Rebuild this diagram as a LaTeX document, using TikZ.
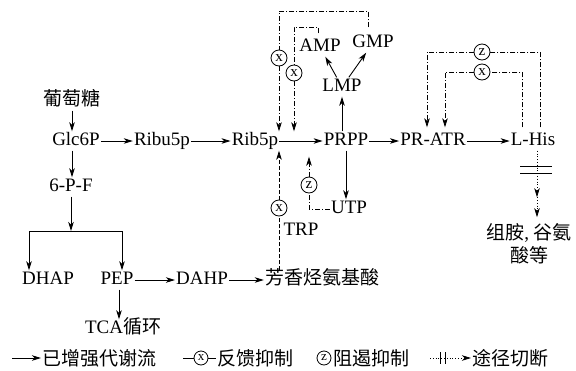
\documentclass[tikz,border=0pt]{standalone}
\usepackage{fontspec}
\setmainfont{Liberation Serif}
\newfontfamily\cjk{Noto Sans CJK SC}
\usetikzlibrary{arrows.meta,calc}
\newcommand{\metfont}{\fontsize{19}{22}\selectfont}
\newcommand{\legfont}{\fontsize{19}{21}\selectfont}

\begin{document}
\begin{tikzpicture}[x=1pt, y=-1pt, >={Stealth[length=9pt,width=5.5pt,inset=2.5pt]},
  met/.style={inner sep=1pt, font=\metfont, text height=13pt, text depth=4pt},
  flow/.style={->, line width=0.9pt},
  fb/.style={line width=0.7pt, dash pattern=on 5pt off 2pt on 1pt off 2pt},
  trpline/.style={line width=0.7pt, dash pattern=on 4pt off 2pt},
  cut/.style={line width=0.8pt, dotted},
  xcirc/.style={circle, draw, line width=0.8pt, fill=white, inner sep=0pt,
    minimum size=16pt, font=\fontsize{15}{15}\selectfont}]
  \useasboundingbox (0,0) rectangle (576,370);
  % metabolites
  \node[met] (glu) at (72,101) {\cjk 葡萄糖};
  \node[met] (glc) at (76,141) {Glc6P};
  \node[met] (p6f) at (71,187) {6-P-F};
  \node[met] (ribu) at (162,141) {Ribu5p};
  \node[met] (rib) at (255,141) {Rib5p};
  \node[met] (prpp) at (346,141) {PRPP};
  \node[met] (prat) at (433,141) {PR-ATR};
  \node[met] (lhis) at (533,141) {L-His};
  \node[met] (lmp) at (342,87) {LMP};
  \node[met] (amp) at (320,47) {AMP};
  \node[met] (gmp) at (373,43) {GMP};
  \node[met] (utp) at (349,209) {UTP};
  \node[met] (trp) at (301,231) {TRP};
  \node[met] (dhap) at (48,280) {DHAP};
  \node[met] (pep) at (117,280) {PEP};
  \node[met] (dahp) at (202,280) {DAHP};
  \node[met] (aro) at (322,280) {\cjk 芳香烃氨基酸};
  \node[met] (tca) at (123,329) {TCA\cjk 循环};
  \node[inner sep=1pt, font=\metfont, align=center] (his) at (529,244)
    {{\cjk 组胺}, {\cjk 谷氨}\\[1pt]{\cjk 酸等}};
  % main flow
  \draw[flow] (glu) -- (glu |- glc.north);
  \draw[flow] (glc.south -| glu) -- (glu |- p6f.north);
  \coordinate (br) at (71,231);
  \draw[flow] (p6f) -- (br);
  \draw[flow] (br) -| ([xshift=-19pt]dhap.north);
  \draw[flow] (br) -| ([xshift=5pt]pep.north);
  \draw[flow] (pep) -- (dahp);
  \draw[flow] (dahp) -- (aro);
  \draw[flow] ([xshift=2pt]pep.south) -- ([xshift=2pt]pep.south |- tca.north);
  \draw[flow] (glc) -- (ribu);
  \draw[flow] (ribu) -- (rib);
  \draw[flow] (rib) -- (prpp);
  \draw[flow] (prpp) -- (prat);
  \draw[flow] (prat) -- (lhis);
  \draw[flow] (prpp.north -| lmp) -- (lmp.south);
  \draw[flow] (lmp) -- (amp);
  \draw[flow] (lmp) -- (gmp);
  \draw[flow] (prpp) -- (prpp |- utp.north);
  % feedback on Rib5p -> PRPP
  \node[xcirc] (x1) at (279,58) {x};
  \node[xcirc] (x2) at (294,73) {x};
  \draw[fb] ([xshift=-5pt,yshift=6pt]gmp.north) -- ++(0,-16) -| (x1.north);
  \draw[fb,->] (x1.south) -- (x1 |- prpp.north);
  \draw[fb] ([xshift=-2pt,yshift=4pt]amp.north) -- ++(0,-6) -| (x2.north);
  \draw[fb,->] (x2.south) -- (x2 |- prpp.north);
  \node[xcirc] (x5) at (279,208) {x};
  \draw[trpline] (aro.north -| x5) -- (x5.south);
  \draw[trpline,->] (x5.north) -- (x5 |- rib.south);
  \node[xcirc] (z6) at (309,185) {z};
  \draw[fb] (utp.west) -| (z6.south);
  \draw[fb,->] (z6.north) -- ($(z6 |- prpp.south)+(0,6)$);
  % feedback on PR-ATR
  \node[xcirc] (z3) at (482,52) {z};
  \node[xcirc] (x4) at (482,72) {x};
  \draw[fb] ([xshift=7pt,yshift=4pt]lhis.north) |- (z3.east);
  \draw[fb,->] (z3.west) -| ([xshift=-6pt,yshift=4pt]prat.north);
  \draw[fb] ([xshift=-11pt,yshift=4pt]lhis.north) |- (x4.east);
  \draw[fb,->] (x4.west) -| ([xshift=12pt,yshift=4pt]prat.north);
  % cut pathway
  \coordinate (hcut) at ($(lhis.south)+(4,19)$);
  \draw[cut,->] ([xshift=4pt]lhis.south) -- ++(0,46.5) coordinate (h1);
  \draw[cut,->] (h1) -- ++(0,20);
  \draw[line width=0.8pt] ([shift={(-17pt,3.5pt)}]hcut) -- ++(32,0);
  \draw[line width=0.8pt] ([shift={(-17pt,-3.5pt)}]hcut) -- ++(32,0);
  % legend
  \coordinate (k1) at (12,358);
  \node[inner sep=1pt, anchor=west, font=\legfont] (l1) at (41,358) {\cjk 已增强代谢流};
  \draw[flow] (k1) -- (l1.west);
  \node[xcirc, minimum size=14pt, font=\fontsize{13}{13}\selectfont] (lx) at (201,358) {x};
  \draw[line width=0.7pt] (lx.west) -- ++(-11,0);
  \node[inner sep=1pt, anchor=west, font=\legfont] (l2) at (216,358) {\cjk 反馈抑制};
  \draw[line width=0.7pt] (lx.east) -- (l2.west);
  \node[xcirc, minimum size=14pt, font=\fontsize{13}{13}\selectfont] (lz) at (324,358) {z};
  \node[inner sep=1pt, anchor=west, font=\legfont] (l3) at (332,358) {\cjk 阻遏抑制};
  \coordinate (k4) at (430,358);
  \node[inner sep=1pt, anchor=west, font=\legfont] (l4) at (471,358) {\cjk 途径切断};
  \draw[cut,->] (k4) -- (l4.west);
  \draw[line width=0.7pt] (440,352) -- (440,364);
  \draw[line width=0.7pt] (445,352) -- (445,364);
\end{tikzpicture}
\end{document}
